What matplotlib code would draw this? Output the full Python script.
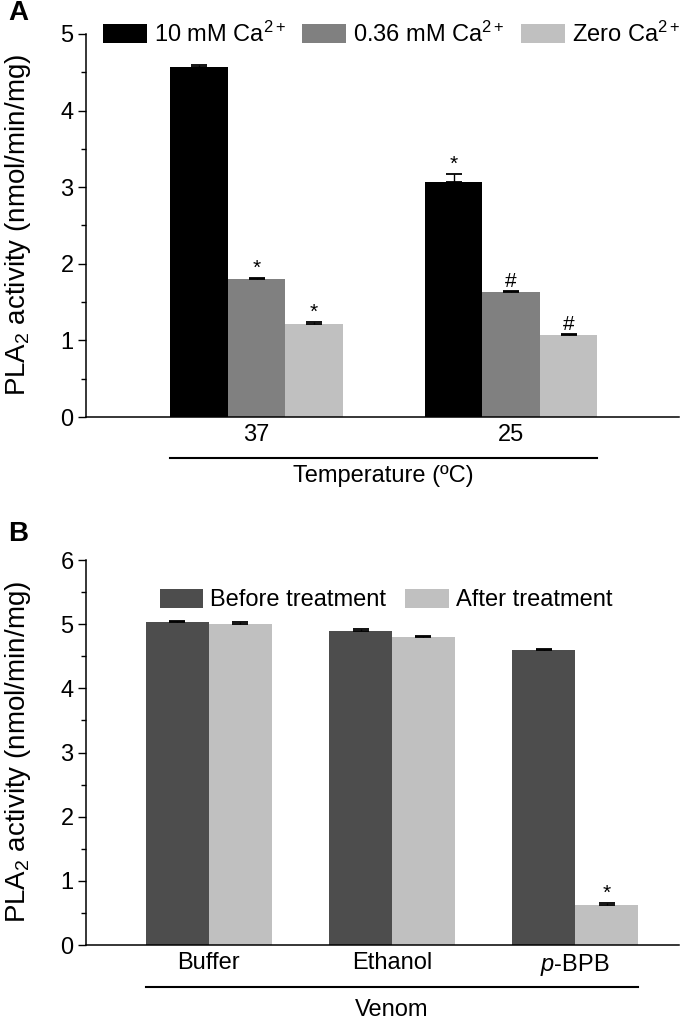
#!/usr/bin/env python3
"""Two-panel bar chart: PLA2 activity by Ca2+ / temperature and by venom treatment."""
import numpy as np
import matplotlib
matplotlib.use("Agg")
import matplotlib.pyplot as plt
from matplotlib.ticker import MultipleLocator
from matplotlib.transforms import blended_transform_factory

plt.rcParams["font.family"] = ["Liberation Sans", "DejaVu Sans"]
plt.rcParams["mathtext.fontset"] = "custom"
plt.rcParams["mathtext.rm"] = "Liberation Sans"
plt.rcParams["mathtext.it"] = "Liberation Sans:italic"

# panel A
temps = ["37", "25"]
ca_series = ["10 mM Ca$^{2+}$", "0.36 mM Ca$^{2+}$", "Zero Ca$^{2+}$"]
ca_values = [[4.57, 3.07], [1.80, 1.63], [1.22, 1.07]]
ca_errors = [[0.02, 0.10], [0.02, 0.02], [0.02, 0.02]]
ca_marks = [["", "*"], ["*", "#"], ["*", "#"]]
ca_colors = ["#000000", "#808080", "#c0c0c0"]

# panel B
venoms = ["Buffer", "Ethanol", "$\\it{p}$-BPB"]
treat_series = ["Before treatment", "After treatment"]
treat_values = [[5.03, 4.90, 4.59], [5.01, 4.80, 0.63]]
treat_errors = [[0.02, 0.02, 0.02], [0.02, 0.02, 0.02]]
treat_marks = [["", "", ""], ["", "", "*"]]
treat_colors = ["#4d4d4d", "#c0c0c0"]

FS = 17
YLABEL = "PLA$_2$ activity (nmol/min/mg)"


def grouped(ax, cats, names, values, errors, marks, colors, width):
    x = np.arange(len(cats))
    n = len(names)
    for i, (name, vals, errs, mk, c) in enumerate(zip(names, values, errors, marks, colors)):
        pos = x + (i - (n - 1) / 2) * width
        ax.bar(pos, vals, width, color=c, label=name, edgecolor="none", zorder=2)
        ax.errorbar(pos, vals, yerr=[np.zeros(len(errs)), errs], fmt="none",
                    ecolor="black", elinewidth=1, capsize=5.5, capthick=1.3, zorder=3)
        for p, v, e, m in zip(pos, vals, errs, mk):
            if m:
                ax.annotate(m, (p, v + e), xytext=(0, 0), textcoords="offset points",
                            ha="center", va="bottom", fontsize=15)
    ax.set_xticks(x)
    ax.set_xticklabels(cats, fontsize=FS)
    ax.tick_params(axis="x", length=0, pad=5)
    ax.tick_params(axis="y", which="major", direction="out", length=6, width=1, labelsize=FS, pad=3)
    ax.tick_params(axis="y", which="minor", direction="out", length=3.5, width=1)
    ax.yaxis.set_major_locator(MultipleLocator(1))
    ax.yaxis.set_minor_locator(MultipleLocator(0.5))
    for s in ["top", "right"]:
        ax.spines[s].set_visible(False)
    for s in ["left", "bottom"]:
        ax.spines[s].set_linewidth(1.1)
    # bracket line under the category labels
    lo = x[0] - n / 2 * width
    hi = x[-1] + n / 2 * width
    trans = blended_transform_factory(ax.transData, ax.transAxes)
    return lo, hi, trans


fig = plt.figure(figsize=(6.85, 10.22), dpi=100)

axA = fig.add_axes([86 / 685, 1 - 417 / 1022, (679 - 86) / 685, (417 - 34) / 1022])
lo, hi, tr = grouped(axA, temps, ca_series, ca_values, ca_errors, ca_marks, ca_colors, 0.226)
axA.set_ylim(0, 5)
axA.set_xlim(-0.67, 1.66)
axA.plot([lo, hi], [-0.107, -0.107], color="black", lw=1.5, transform=tr, clip_on=False)
axA.text((lo + hi) / 2, -0.155, "Temperature (ºC)", transform=tr, ha="center", va="center",
         fontsize=FS)
axA.legend(loc="center", bbox_to_anchor=(0.515, 1.0), ncol=3, frameon=False, fontsize=FS,
           handlelength=1.85, handleheight=0.85, handletextpad=0.3, columnspacing=0.7,
           borderpad=0)
fig.text(18 / 685, 1 - 225 / 1022, YLABEL, rotation=90, ha="center", va="center", fontsize=20)
fig.text(8 / 685, 1 - 13 / 1022, "A", fontsize=20, fontweight="bold", va="center")

axB = fig.add_axes([86 / 685, 1 - 945 / 1022, (679 - 86) / 685, (945 - 560) / 1022])
lo, hi, tr = grouped(axB, venoms, treat_series, treat_values, treat_errors, treat_marks,
                     treat_colors, 0.343)
axB.set_ylim(0, 6)
axB.set_xlim(-0.67, 2.567)
axB.plot([lo, hi], [-0.109, -0.109], color="black", lw=1.5, transform=tr, clip_on=False)
axB.text((lo + hi) / 2, -0.169, "Venom", transform=tr, ha="center", va="center", fontsize=FS)
axB.legend(loc="center", bbox_to_anchor=(0.506, 0.896), ncol=2, frameon=False, fontsize=FS,
           handlelength=1.85, handleheight=0.85, handletextpad=0.3, columnspacing=0.8,
           borderpad=0)
fig.text(18 / 685, 1 - 752 / 1022, YLABEL, rotation=90, ha="center", va="center", fontsize=20)
fig.text(8 / 685, 1 - 534 / 1022, "B", fontsize=20, fontweight="bold", va="center")

fig.savefig("out.png", dpi=100)
